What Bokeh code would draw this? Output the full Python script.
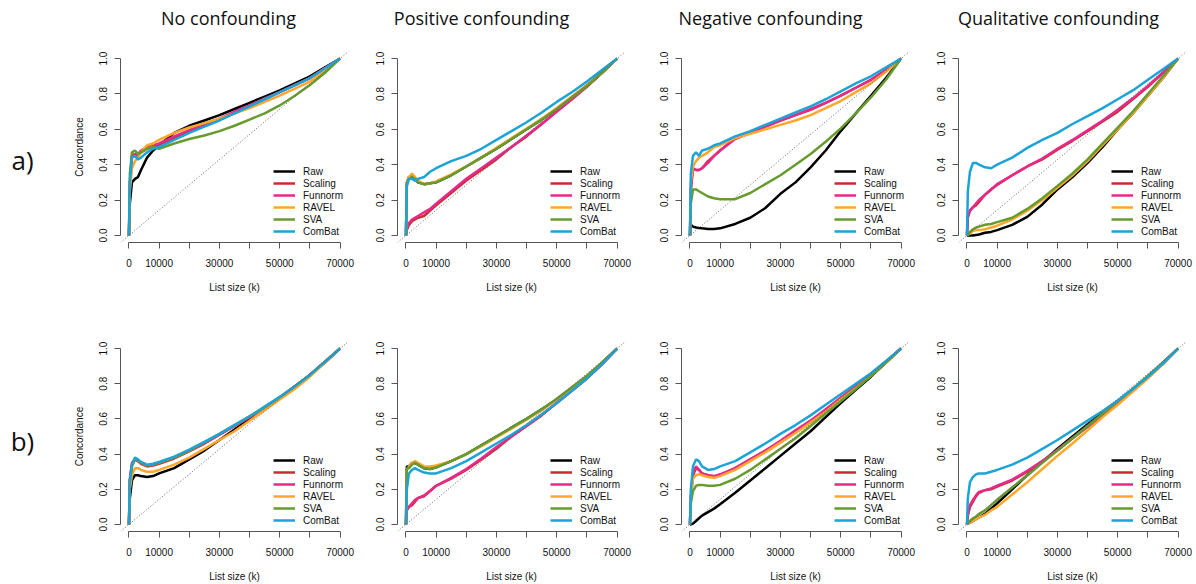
from bokeh.plotting import figure
from bokeh.layouts import column, row
from bokeh.models import (Range1d, FixedTicker, BasicTickFormatter, PrintfTickFormatter,
                          Slope, Legend, LegendItem)
from bokeh.core.properties import value
from bokeh.embed import file_html
from bokeh.resources import INLINE

# ---------------- data ----------------
LIST_SIZE = [0, 300, 1000, 2000, 3000, 4000, 6000, 8000, 10000, 15000, 20000,
             25000, 30000, 35000, 40000, 45000, 50000, 55000, 60000, 65000, 70000]
SERIES = ["Raw", "Scaling", "Funnorm", "RAVEL", "SVA", "ComBat"]
COLORS = ["#000000", "#CB2C31", "#E7298A", "#FFA72B", "#679B2E", "#1CA3D8"]
COLUMN_TITLES = ["No confounding", "Positive confounding", "Negative confounding",
                 "Qualitative confounding"]
ROW_LABELS = ["a)", "b)"]
X_TICKS = [0, 10000, 20000, 30000, 40000, 50000, 60000, 70000]
X_HIDDEN = [20000, 40000, 60000]
Y_TICKS = [0.0, 0.2, 0.4, 0.6, 0.8, 1.0]

A_NO = {
    "Raw":     [0, 0.18, 0.30, 0.32, 0.33, 0.37, 0.44, 0.48, 0.51, 0.58, 0.62, 0.65, 0.68, 0.715, 0.75, 0.785, 0.82, 0.86, 0.90, 0.95, 1.0],
    "Scaling": [0, 0.30, 0.45, 0.46, 0.45, 0.47, 0.49, 0.50, 0.51, 0.55, 0.59, 0.62, 0.66, 0.69, 0.73, 0.77, 0.81, 0.85, 0.89, 0.945, 1.0],
    "Funnorm": [0, 0.28, 0.44, 0.46, 0.46, 0.48, 0.50, 0.51, 0.52, 0.56, 0.595, 0.63, 0.66, 0.70, 0.735, 0.775, 0.81, 0.85, 0.89, 0.945, 1.0],
    "RAVEL":   [0, 0.25, 0.38, 0.42, 0.44, 0.47, 0.51, 0.52, 0.54, 0.58, 0.61, 0.635, 0.66, 0.69, 0.72, 0.755, 0.79, 0.83, 0.87, 0.93, 1.0],
    "SVA":     [0, 0.35, 0.47, 0.48, 0.46, 0.47, 0.49, 0.50, 0.49, 0.52, 0.545, 0.565, 0.59, 0.62, 0.655, 0.69, 0.735, 0.79, 0.85, 0.92, 1.0],
    "ComBat":  [0, 0.30, 0.44, 0.45, 0.43, 0.44, 0.47, 0.49, 0.50, 0.54, 0.58, 0.615, 0.65, 0.69, 0.73, 0.77, 0.81, 0.85, 0.89, 0.945, 1.0],
}
A_POS = {
    "Raw":     [0, 0.30, 0.33, 0.34, 0.32, 0.30, 0.29, 0.295, 0.30, 0.34, 0.39, 0.44, 0.49, 0.545, 0.60, 0.655, 0.715, 0.78, 0.845, 0.92, 1.0],
    "Scaling": [0, 0.03, 0.06, 0.08, 0.09, 0.10, 0.11, 0.14, 0.17, 0.24, 0.31, 0.37, 0.43, 0.50, 0.56, 0.63, 0.70, 0.77, 0.84, 0.92, 1.0],
    "Funnorm": [0, 0.04, 0.07, 0.09, 0.10, 0.11, 0.13, 0.15, 0.18, 0.25, 0.32, 0.38, 0.44, 0.50, 0.565, 0.63, 0.70, 0.77, 0.845, 0.92, 1.0],
    "RAVEL":   [0, 0.30, 0.33, 0.35, 0.33, 0.31, 0.29, 0.295, 0.305, 0.345, 0.39, 0.44, 0.495, 0.55, 0.605, 0.66, 0.72, 0.785, 0.85, 0.92, 1.0],
    "SVA":     [0, 0.29, 0.32, 0.33, 0.32, 0.30, 0.29, 0.295, 0.30, 0.34, 0.39, 0.44, 0.49, 0.545, 0.60, 0.655, 0.715, 0.78, 0.845, 0.92, 1.0],
    "ComBat":  [0, 0.28, 0.32, 0.32, 0.31, 0.32, 0.33, 0.36, 0.38, 0.42, 0.45, 0.49, 0.54, 0.59, 0.64, 0.695, 0.755, 0.81, 0.87, 0.935, 1.0],
}
A_NEG = {
    "Raw":     [0, 0.06, 0.05, 0.045, 0.042, 0.04, 0.037, 0.037, 0.04, 0.065, 0.10, 0.155, 0.235, 0.30, 0.385, 0.48, 0.59, 0.69, 0.79, 0.89, 1.0],
    "Scaling": [0, 0.25, 0.38, 0.37, 0.37, 0.38, 0.42, 0.45, 0.48, 0.55, 0.58, 0.615, 0.65, 0.68, 0.71, 0.75, 0.79, 0.835, 0.88, 0.935, 1.0],
    "Funnorm": [0, 0.27, 0.38, 0.37, 0.37, 0.38, 0.41, 0.45, 0.48, 0.545, 0.58, 0.615, 0.65, 0.68, 0.715, 0.75, 0.79, 0.835, 0.88, 0.935, 1.0],
    "RAVEL":   [0, 0.30, 0.39, 0.42, 0.44, 0.45, 0.47, 0.50, 0.51, 0.55, 0.575, 0.60, 0.625, 0.65, 0.68, 0.72, 0.76, 0.81, 0.86, 0.925, 1.0],
    "SVA":     [0, 0.18, 0.26, 0.26, 0.25, 0.24, 0.22, 0.21, 0.205, 0.205, 0.24, 0.29, 0.34, 0.40, 0.46, 0.53, 0.605, 0.69, 0.78, 0.88, 1.0],
    "ComBat":  [0, 0.35, 0.45, 0.47, 0.45, 0.48, 0.49, 0.51, 0.52, 0.56, 0.59, 0.625, 0.66, 0.695, 0.73, 0.77, 0.815, 0.86, 0.90, 0.95, 1.0],
}
A_QUAL = {
    "Raw":     [0, 0.0, 0.0, 0.0, 0.003, 0.005, 0.015, 0.02, 0.03, 0.06, 0.105, 0.175, 0.26, 0.33, 0.41, 0.50, 0.60, 0.69, 0.79, 0.89, 1.0],
    "Scaling": [0, 0.10, 0.14, 0.16, 0.17, 0.19, 0.23, 0.26, 0.285, 0.34, 0.39, 0.43, 0.485, 0.535, 0.59, 0.645, 0.70, 0.77, 0.84, 0.92, 1.0],
    "Funnorm": [0, 0.11, 0.14, 0.16, 0.18, 0.20, 0.23, 0.26, 0.29, 0.34, 0.39, 0.435, 0.49, 0.54, 0.595, 0.65, 0.71, 0.775, 0.845, 0.92, 1.0],
    "RAVEL":   [0, 0.005, 0.01, 0.025, 0.03, 0.03, 0.035, 0.045, 0.055, 0.09, 0.14, 0.20, 0.27, 0.34, 0.42, 0.51, 0.60, 0.69, 0.79, 0.89, 1.0],
    "SVA":     [0, 0.005, 0.02, 0.035, 0.045, 0.05, 0.06, 0.065, 0.075, 0.10, 0.15, 0.21, 0.28, 0.35, 0.43, 0.52, 0.61, 0.70, 0.80, 0.90, 1.0],
    "ComBat":  [0, 0.25, 0.36, 0.41, 0.41, 0.40, 0.385, 0.38, 0.40, 0.44, 0.495, 0.54, 0.58, 0.63, 0.675, 0.72, 0.77, 0.82, 0.88, 0.94, 1.0],
}
B_NO = {
    "Raw":     [0, 0.15, 0.25, 0.28, 0.28, 0.275, 0.27, 0.275, 0.29, 0.32, 0.37, 0.42, 0.48, 0.54, 0.60, 0.66, 0.72, 0.78, 0.85, 0.92, 1.0],
    "Scaling": [0, 0.25, 0.34, 0.37, 0.36, 0.345, 0.33, 0.335, 0.345, 0.375, 0.415, 0.46, 0.51, 0.56, 0.61, 0.665, 0.72, 0.785, 0.85, 0.925, 1.0],
    "Funnorm": [0, 0.26, 0.35, 0.37, 0.36, 0.35, 0.335, 0.34, 0.35, 0.38, 0.42, 0.46, 0.51, 0.56, 0.61, 0.665, 0.72, 0.785, 0.85, 0.925, 1.0],
    "RAVEL":   [0, 0.20, 0.28, 0.32, 0.32, 0.31, 0.30, 0.30, 0.31, 0.34, 0.38, 0.43, 0.48, 0.53, 0.59, 0.65, 0.71, 0.77, 0.84, 0.92, 1.0],
    "SVA":     [0, 0.24, 0.33, 0.37, 0.365, 0.35, 0.335, 0.34, 0.35, 0.38, 0.42, 0.465, 0.515, 0.565, 0.615, 0.665, 0.725, 0.785, 0.85, 0.925, 1.0],
    "ComBat":  [0, 0.25, 0.34, 0.38, 0.37, 0.355, 0.34, 0.345, 0.355, 0.385, 0.425, 0.47, 0.515, 0.565, 0.615, 0.67, 0.725, 0.785, 0.85, 0.925, 1.0],
}
B_POS = {
    "Raw":     [0, 0.33, 0.33, 0.35, 0.35, 0.34, 0.32, 0.315, 0.325, 0.36, 0.40, 0.45, 0.50, 0.55, 0.60, 0.655, 0.71, 0.775, 0.84, 0.92, 1.0],
    "Scaling": [0, 0.08, 0.10, 0.11, 0.13, 0.15, 0.16, 0.19, 0.22, 0.26, 0.31, 0.37, 0.43, 0.50, 0.56, 0.62, 0.69, 0.76, 0.83, 0.91, 1.0],
    "Funnorm": [0, 0.09, 0.10, 0.12, 0.14, 0.15, 0.165, 0.19, 0.22, 0.265, 0.315, 0.375, 0.44, 0.50, 0.56, 0.625, 0.69, 0.76, 0.83, 0.91, 1.0],
    "RAVEL":   [0, 0.31, 0.33, 0.35, 0.36, 0.35, 0.33, 0.33, 0.335, 0.36, 0.40, 0.445, 0.495, 0.545, 0.595, 0.65, 0.71, 0.775, 0.84, 0.92, 1.0],
    "SVA":     [0, 0.32, 0.32, 0.34, 0.35, 0.34, 0.32, 0.315, 0.325, 0.36, 0.40, 0.45, 0.50, 0.55, 0.60, 0.655, 0.715, 0.78, 0.845, 0.92, 1.0],
    "ComBat":  [0, 0.20, 0.29, 0.31, 0.32, 0.31, 0.295, 0.29, 0.29, 0.32, 0.36, 0.41, 0.46, 0.51, 0.565, 0.625, 0.69, 0.76, 0.83, 0.91, 1.0],
}
B_NEG = {
    "Raw":     [0, 0.0, 0.005, 0.02, 0.035, 0.05, 0.07, 0.09, 0.115, 0.18, 0.25, 0.32, 0.39, 0.46, 0.53, 0.61, 0.69, 0.765, 0.84, 0.92, 1.0],
    "Scaling": [0, 0.15, 0.28, 0.32, 0.31, 0.29, 0.28, 0.27, 0.28, 0.32, 0.37, 0.42, 0.47, 0.53, 0.59, 0.65, 0.72, 0.785, 0.85, 0.925, 1.0],
    "Funnorm": [0, 0.16, 0.29, 0.33, 0.31, 0.29, 0.28, 0.275, 0.285, 0.32, 0.37, 0.42, 0.475, 0.535, 0.59, 0.655, 0.72, 0.785, 0.85, 0.925, 1.0],
    "RAVEL":   [0, 0.14, 0.26, 0.28, 0.285, 0.28, 0.27, 0.265, 0.275, 0.31, 0.36, 0.41, 0.465, 0.52, 0.58, 0.64, 0.71, 0.775, 0.845, 0.92, 1.0],
    "SVA":     [0, 0.12, 0.19, 0.22, 0.225, 0.225, 0.22, 0.22, 0.225, 0.26, 0.31, 0.37, 0.43, 0.49, 0.56, 0.63, 0.70, 0.77, 0.845, 0.92, 1.0],
    "ComBat":  [0, 0.20, 0.33, 0.37, 0.36, 0.33, 0.31, 0.315, 0.33, 0.36, 0.41, 0.46, 0.515, 0.565, 0.62, 0.68, 0.74, 0.80, 0.86, 0.93, 1.0],
}
B_QUAL = {
    "Raw":     [0, 0.005, 0.01, 0.02, 0.03, 0.04, 0.06, 0.09, 0.12, 0.20, 0.28, 0.355, 0.43, 0.50, 0.57, 0.635, 0.70, 0.77, 0.84, 0.92, 1.0],
    "Scaling": [0, 0.05, 0.10, 0.13, 0.16, 0.18, 0.195, 0.20, 0.215, 0.25, 0.30, 0.36, 0.42, 0.49, 0.555, 0.62, 0.69, 0.76, 0.835, 0.915, 1.0],
    "Funnorm": [0, 0.06, 0.11, 0.14, 0.165, 0.185, 0.195, 0.205, 0.22, 0.255, 0.305, 0.36, 0.425, 0.49, 0.555, 0.62, 0.69, 0.76, 0.835, 0.915, 1.0],
    "RAVEL":   [0, 0.005, 0.01, 0.02, 0.03, 0.04, 0.055, 0.08, 0.10, 0.17, 0.24, 0.315, 0.39, 0.46, 0.535, 0.61, 0.68, 0.755, 0.83, 0.91, 1.0],
    "SVA":     [0, 0.01, 0.02, 0.035, 0.045, 0.06, 0.08, 0.11, 0.14, 0.21, 0.28, 0.35, 0.42, 0.49, 0.56, 0.63, 0.70, 0.77, 0.845, 0.92, 1.0],
    "ComBat":  [0, 0.15, 0.24, 0.27, 0.285, 0.29, 0.29, 0.30, 0.31, 0.34, 0.38, 0.43, 0.48, 0.535, 0.59, 0.645, 0.705, 0.77, 0.84, 0.915, 1.0],
}

# ---------------- styling ----------------
TICK_FONT = "Liberation Sans"
AXIS_COLOR = "#555555"
FRAME_W, FRAME_H = 228, 191


def panel(data, width, height, left, top, ylabel=None):
    right = width - left - FRAME_W
    bottom = height - top - FRAME_H
    p = figure(width=width, height=height,
               x_range=Range1d(-2800, 72800), y_range=Range1d(-0.04, 1.04),
               output_backend="svg", toolbar_location=None,
               min_border_left=left, min_border_right=right,
               min_border_top=top, min_border_bottom=bottom,
               x_axis_label="List size (k)", y_axis_label=ylabel)
    p.grid.visible = False
    p.outline_line_color = None
    p.background_fill_color = "white"
    p.border_fill_color = "white"

    p.add_layout(Slope(gradient=1 / 70000, y_intercept=0, line_color="#666666",
                       line_dash="1 2", line_width=1))
    items = []
    for name, color in zip(SERIES, COLORS):
        r = p.line(LIST_SIZE, data[name], line_color=color, line_width=2.5)
        items.append(LegendItem(label=name, renderers=[r]))
    legend = Legend(items=items, location="bottom_right",
                    glyph_width=22, glyph_height=12, label_height=12,
                    spacing=0, padding=5, margin=0, label_standoff=8,
                    label_text_font=TICK_FONT, label_text_font_size="10px",
                    label_text_color="#111111",
                    background_fill_alpha=0, border_line_alpha=0)
    p.add_layout(legend)

    xa = p.xaxis[0]
    xa.ticker = FixedTicker(ticks=X_TICKS)
    xa.formatter = BasicTickFormatter(use_scientific=False)
    xa.major_label_overrides = {t: "" for t in X_HIDDEN}
    xa.bounds = (0, 70000)
    xa.major_label_standoff = 10

    ya = p.yaxis[0]
    ya.ticker = FixedTicker(ticks=Y_TICKS)
    ya.formatter = PrintfTickFormatter(format="%.1f")
    ya.bounds = (0, 1)
    ya.major_label_orientation = "parallel"
    ya.major_label_standoff = 7

    for ax in (xa, ya):
        ax.axis_line_color = AXIS_COLOR
        ax.major_tick_line_color = AXIS_COLOR
        ax.minor_tick_line_color = None
        ax.major_tick_in = 0
        ax.major_tick_out = 6
        ax.major_label_text_font = TICK_FONT
        ax.major_label_text_font_size = "10px"
        ax.major_label_text_color = "#111111"
        ax.axis_label_text_font = TICK_FONT
        ax.axis_label_text_font_size = "10px"
        ax.axis_label_text_font_style = "normal"
        ax.axis_label_text_color = "#111111"
        ax.axis_label_standoff = 12
    return p


def blank(width, height, top=0, bottom=0):
    p = figure(width=width, height=height, x_range=Range1d(0, width),
               y_range=Range1d(0, height - top - bottom), output_backend="svg",
               toolbar_location=None, min_border=0,
               min_border_top=top, min_border_bottom=bottom,
               x_axis_location=None, y_axis_location=None)
    p.grid.visible = False
    p.outline_line_color = None
    p.background_fill_color = "white"
    p.border_fill_color = "white"
    return p


ROW_A_H, ROW_B_H, TITLE_H = 270, 284, 30
TOP_A, TOP_B = 21, 41
WIDTHS = [302, 285, 280, 271]
LEFTS = [62, 37, 36, 33]
LABEL_W = 58

# title strip
titles = blank(1196, TITLE_H)
titles.text(x=[228, 481, 770, 1058], y=[13, 13, 13, 13], text=COLUMN_TITLES,
            text_font=value("Open Sans"), text_font_size="18px",
            text_align="center", text_baseline="middle", text_color="#111111")

# row labels (frame aligned with the panel frames of each row)
lab_a = blank(LABEL_W, ROW_A_H, TOP_A, ROW_A_H - TOP_A - FRAME_H)
lab_a.text(x=[22], y=[83], text=[ROW_LABELS[0]], text_font=value("Open Sans"),
           text_font_size="26px", text_align="center", text_baseline="middle",
           text_color="#111111")
lab_b = blank(LABEL_W, ROW_B_H, TOP_B, ROW_B_H - TOP_B - FRAME_H)
lab_b.text(x=[22], y=[91], text=[ROW_LABELS[1]], text_font=value("Open Sans"),
           text_font_size="26px", text_align="center", text_baseline="middle",
           text_color="#111111")

row_a = [lab_a]
for i, d in enumerate([A_NO, A_POS, A_NEG, A_QUAL]):
    row_a.append(panel(d, WIDTHS[i], ROW_A_H, LEFTS[i], TOP_A,
                       "Concordance" if i == 0 else None))
row_b = [lab_b]
for i, d in enumerate([B_NO, B_POS, B_NEG, B_QUAL]):
    row_b.append(panel(d, WIDTHS[i], ROW_B_H, LEFTS[i], TOP_B,
                       "Concordance" if i == 0 else None))

layout = column(titles, row(*row_a), row(*row_b))

open("out.html", "w").write(file_html(layout, INLINE))
